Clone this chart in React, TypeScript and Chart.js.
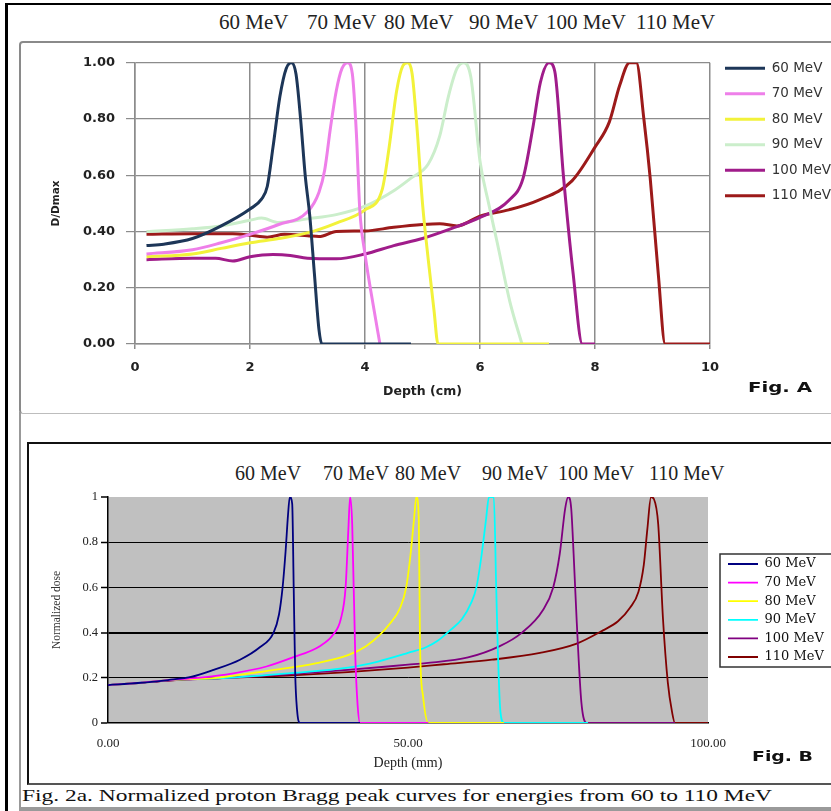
import React, { useEffect, useLayoutEffect, useRef } from 'react';
import { Chart, registerables } from 'chart.js';

Chart.register(...registerables);

// ---------- DATA ----------
const energies = ['60 MeV', '70 MeV', '80 MeV', '90 MeV', '100 MeV', '110 MeV'];

// Fig. A : depth (cm) vs D/Dmax
const figA60 = [[0.2, 0.35], [0.5, 0.355], [1.0, 0.375], [1.5, 0.42], [2.0, 0.48], [2.2, 0.515], [2.3, 0.56], [2.4, 0.7], [2.52, 0.88], [2.63, 0.98], [2.72, 1.0], [2.8, 0.96], [2.88, 0.8], [2.96, 0.6], [3.04, 0.455], [3.12, 0.25], [3.2, 0.05], [3.25, 0], [4.8, 0]];
const figA70 = [[0.2, 0.32], [1.0, 0.335], [1.5, 0.36], [2.0, 0.39], [2.5, 0.425], [3.0, 0.47], [3.2, 0.54], [3.3, 0.62], [3.4, 0.77], [3.5, 0.9], [3.6, 0.98], [3.7, 1.0], [3.78, 0.96], [3.85, 0.75], [3.91, 0.475], [4.0, 0.32], [4.15, 0.13], [4.26, 0]];
const figA80 = [[0.2, 0.31], [1.0, 0.32], [1.5, 0.34], [2.0, 0.36], [2.5, 0.375], [3.0, 0.395], [3.5, 0.43], [4.0, 0.477], [4.3, 0.55], [4.42, 0.7], [4.55, 0.9], [4.66, 0.99], [4.74, 1.0], [4.82, 0.96], [4.9, 0.78], [5.0, 0.5], [5.1, 0.3], [5.2, 0.12], [5.27, 0], [7.2, 0]];
const figA90 = [[0.2, 0.4], [1.0, 0.41], [1.5, 0.42], [2.0, 0.44], [2.2, 0.448], [2.5, 0.432], [3.0, 0.445], [3.5, 0.46], [4.0, 0.49], [4.5, 0.545], [4.8, 0.59], [5.1, 0.64], [5.3, 0.74], [5.45, 0.88], [5.6, 0.98], [5.72, 1.0], [5.84, 0.95], [6.0, 0.65], [6.15, 0.5], [6.3, 0.36], [6.52, 0.15], [6.73, 0]];
const figA100 = [[0.2, 0.3], [1.0, 0.305], [1.4, 0.305], [1.7, 0.295], [2.0, 0.31], [2.4, 0.318], [2.7, 0.315], [3.0, 0.305], [3.5, 0.303], [4.0, 0.32], [4.5, 0.35], [5.0, 0.375], [5.5, 0.41], [6.0, 0.45], [6.5, 0.51], [6.75, 0.59], [6.92, 0.77], [7.05, 0.93], [7.2, 1.0], [7.3, 0.97], [7.45, 0.6], [7.62, 0.25], [7.78, 0], [8.0, 0]];
const figA110 = [[0.2, 0.39], [1.0, 0.392], [1.7, 0.392], [2.0, 0.387], [2.3, 0.38], [2.6, 0.39], [3.0, 0.385], [3.2, 0.382], [3.5, 0.4], [4.0, 0.402], [4.5, 0.415], [5.0, 0.425], [5.3, 0.428], [5.6, 0.42], [6.0, 0.455], [6.5, 0.477], [7.0, 0.51], [7.6, 0.58], [8.0, 0.7], [8.25, 0.79], [8.43, 0.92], [8.6, 1.0], [8.72, 1.0], [8.85, 0.8], [8.96, 0.59], [9.1, 0.25], [9.22, 0], [10, 0]];
const figASeries = [figA60, figA70, figA80, figA90, figA100, figA110];
const figAColors = ['#1d3658', '#ee7fe9', '#f2f23a', '#cbeecb', '#a01c8a', '#9c1a1a'];
const figAXTicks = [0, 2, 4, 6, 8, 10];
const figAYTicks = [0, 0.2, 0.4, 0.6, 0.8, 1.0];

// Fig. B : depth (mm) vs normalized dose
const figB60 = [[0, 0.168], [5, 0.177], [10, 0.19], [14, 0.205], [17.6, 0.235], [22, 0.28], [25.3, 0.335], [27.6, 0.4], [28.5, 0.48], [29.1, 0.6], [29.6, 0.76], [30, 0.92], [30.3, 1.0], [30.7, 0.97], [30.95, 0.6], [31.2, 0.22], [31.5, 0.06], [32, 0], [42, 0]];
const figB70 = [[0, 0.168], [5, 0.177], [10, 0.19], [15, 0.2], [20.9, 0.22], [26.4, 0.25], [30.8, 0.29], [35.3, 0.34], [37.5, 0.39], [38.8, 0.46], [39.6, 0.6], [40.05, 0.85], [40.35, 1.0], [40.7, 0.88], [41.2, 0.31], [41.6, 0.08], [42, 0], [53.4, 0]];
const figB80 = [[0, 0.168], [5, 0.177], [10, 0.19], [18, 0.2], [26.4, 0.23], [34.8, 0.265], [40, 0.3], [43, 0.34], [45.3, 0.39], [47, 0.44], [48.7, 0.51], [49.7, 0.6], [50.4, 0.74], [51, 0.9], [51.4, 1.0], [51.8, 0.9], [52, 0.35], [52.5, 0.12], [53.4, 0], [66, 0]];
const figB90 = [[0, 0.168], [5, 0.177], [10, 0.19], [20, 0.2], [30, 0.22], [40, 0.245], [45, 0.272], [50, 0.31], [53, 0.335], [55, 0.365], [57, 0.41], [59, 0.46], [60.5, 0.53], [61.4, 0.6], [62.3, 0.75], [63, 0.9], [63.5, 1.0], [64.3, 1.0], [64.7, 0.6], [65, 0.3], [65.4, 0.05], [66, 0], [80, 0]];
const figB100 = [[0, 0.168], [5, 0.177], [10, 0.188], [20, 0.2], [30, 0.215], [40, 0.235], [50, 0.258], [53, 0.265], [60, 0.29], [65.3, 0.34], [69, 0.4], [72.5, 0.5], [74.2, 0.6], [75.3, 0.75], [76.2, 0.95], [76.7, 1.0], [77.2, 0.95], [77.6, 0.75], [78.1, 0.46], [78.9, 0.09], [79.8, 0], [94.5, 0]];
const figB110 = [[0, 0.168], [5, 0.177], [10, 0.188], [20, 0.2], [30, 0.21], [40, 0.225], [50, 0.245], [56, 0.26], [64, 0.28], [72, 0.31], [78, 0.35], [82.5, 0.41], [85, 0.45], [87, 0.51], [88.4, 0.58], [89.3, 0.7], [89.9, 0.86], [90.5, 1.0], [91, 0.99], [91.7, 0.88], [92.5, 0.46], [93.3, 0.18], [94, 0.05], [94.5, 0], [100, 0]];
const figBSeries = [figB60, figB70, figB80, figB90, figB100, figB110];
const figBColors = ['#000080', '#ff00ff', '#ffff00', '#00ffff', '#800080', '#800000'];
const figBXTicks = [0, 50, 100];
const figBYTicks = [0, 0.2, 0.4, 0.6, 0.8, 1];

const captionText = 'Fig. 2a. Normalized proton Bragg peak curves for energies from 60 to 110 MeV';

// ---------- PLUGINS ----------
const plotBg = {
  id: 'plotBg',
  beforeDraw(chart: any, _a: any, opts: any) {
    if (!opts || !opts.color) return;
    const { ctx, chartArea: a } = chart;
    ctx.save();
    ctx.fillStyle = opts.color;
    ctx.fillRect(a.left, a.top, a.right - a.left, a.bottom - a.top);
    ctx.restore();
  },
};

const legendFrame = {
  id: 'legendFrame',
  afterDraw(chart: any, _a: any, opts: any) {
    if (!opts || !opts.enabled) return;
    const lg = chart.legend;
    const hb = lg && lg.legendHitBoxes;
    if (!hb || !hb.length) return;
    const first = hb[0];
    const last = hb[hb.length - 1];
    const { ctx } = chart;
    ctx.save();
    ctx.strokeStyle = opts.color || '#333';
    ctx.lineWidth = opts.width || 1.5;
    const left = first.left - opts.left;
    const top = first.top - opts.vpad;
    const bottom = last.top + last.height + opts.vpad;
    ctx.strokeRect(left, top, chart.width - left + 10, bottom - top);
    ctx.restore();
  },
};

// legend labels: default items, widened with trailing blanks so the legend box
// reaches the picture edge (the reference cuts the legend text at the border)
const wideLabels = (chart: any) =>
  Chart.defaults.plugins.legend.labels.generateLabels(chart).map((it: any) => ({
    ...it,
    text: it.text + '\u00A0\u00A0\u00A0\u00A0\u00A0\u00A0\u00A0\u00A0\u00A0\u00A0',
  }));

// ---------- CHART CONFIGS ----------
const sansBold = (size: number) => ({ family: "'DejaVu Sans', sans-serif", size, weight: 'bold' as const });
const serif = (size: number) => ({ family: "'Liberation Serif', 'Times New Roman', serif", size });

function configA() {
  return {
    type: 'line',
    data: {
      datasets: figASeries.map((pts, i) => ({
        label: energies[i],
        data: pts.map(([x, y]) => ({ x, y })),
        borderColor: figAColors[i],
        backgroundColor: figAColors[i],
        borderWidth: 3,
        pointBorderWidth: 3,
        pointRadius: 0,
        pointHoverRadius: 0,
        cubicInterpolationMode: 'monotone',
        fill: false,
      })),
    },
    options: {
      responsive: false,
      animation: false,
      events: [],
      layout: { padding: { top: 5.5, right: 69, bottom: 0, left: 0 } },
      plugins: {
        title: { display: true, text: ' ', font: { size: 6.5, lineHeight: 1 }, padding: 0 },
        legend: {
          position: 'right',
          align: 'start',
          maxWidth: 140,
          labels: {
            usePointStyle: true,
            pointStyle: 'line',
            pointStyleWidth: 40,
            padding: 12,
            color: '#333',
            font: { family: "'DejaVu Sans', sans-serif", size: 13.5 },
            generateLabels: wideLabels,
          },
        },
        tooltip: { enabled: false },
      },
      scales: {
        x: {
          type: 'linear',
          min: 0,
          max: 10,
          afterFit: (s: any) => { s.height = 68; },
          afterBuildTicks: (s: any) => { s.ticks = figAXTicks.map((v) => ({ value: v })); },
          ticks: { padding: 11, color: '#222', font: sansBold(13), maxRotation: 0 },
          grid: { color: '#8c8c8c', lineWidth: 1.5, tickLength: 5 },
          border: { color: '#8c8c8c', width: 1.5 },
          title: { display: true, text: 'Depth (cm)', color: '#222', font: sansBold(12.5), padding: { top: 0, bottom: 13 } },
        },
        y: {
          type: 'linear',
          min: 0,
          max: 1,
          afterFit: (s: any) => { s.width = 113; },
          afterBuildTicks: (s: any) => { s.ticks = figAYTicks.map((v) => ({ value: v })); },
          ticks: { padding: 11, color: '#222', font: sansBold(13), callback: (v: any) => Number(v).toFixed(2) },
          grid: { color: '#8c8c8c', lineWidth: 1.2, tickLength: 9 },
          border: { color: '#8c8c8c', width: 1.5 },
          title: { display: true, text: 'D/Dmax', color: '#222', font: sansBold(10.5), padding: { top: 28, bottom: 0 } },
        },
        yr: {
          type: 'linear',
          position: 'right',
          display: true,
          afterFit: (s: any) => { s.width = 3; },
          grid: { display: false },
          ticks: { display: false },
          border: { display: false },
        },
      },
    },
  };
}

function configB() {
  return {
    type: 'line',
    data: {
      datasets: figBSeries.map((pts, i) => ({
        label: energies[i],
        data: pts.map(([x, y]) => ({ x, y })),
        borderColor: figBColors[i],
        backgroundColor: figBColors[i],
        borderWidth: 1.8,
        pointBorderWidth: 1.8,
        pointRadius: 0,
        pointHoverRadius: 0,
        cubicInterpolationMode: 'monotone',
        fill: false,
      })),
    },
    plugins: [plotBg, legendFrame],
    options: {
      responsive: false,
      animation: false,
      events: [],
      layout: { padding: { top: 53, right: 76.6, bottom: 0, left: 0 } },
      plugins: {
        plotBg: { color: '#c0c0c0' },
        legendFrame: { enabled: true, left: 8, vpad: 3.5, color: '#333', width: 1.5 },
        title: { display: false },
        legend: {
          position: 'right',
          align: 'start',
          maxWidth: 130,
          title: { display: true, text: ' ', font: { size: 10, lineHeight: 1 }, padding: { top: 44.9, bottom: 0 } },
          labels: {
            usePointStyle: true,
            pointStyle: 'line',
            pointStyleWidth: 30,
            padding: 5.6,
            color: '#111',
            font: { family: "'DejaVu Serif', serif", size: 13 },
            generateLabels: wideLabels,
          },
        },
        tooltip: { enabled: false },
      },
      scales: {
        x: {
          type: 'linear',
          min: 0,
          max: 100,
          afterFit: (s: any) => { s.height = 60; },
          afterBuildTicks: (s: any) => { s.ticks = figBXTicks.map((v) => ({ value: v })); },
          ticks: { padding: 5, color: '#222', font: serif(13), maxRotation: 0, callback: (v: any) => Number(v).toFixed(2) },
          grid: { display: false },
          border: { color: '#000', width: 1.5 },
          title: { display: true, text: 'Depth (mm)', color: '#222', font: serif(14), padding: { top: 0, bottom: 11.6 } },
        },
        y: {
          type: 'linear',
          min: 0,
          max: 1,
          afterFit: (s: any) => { s.width = 79; },
          afterBuildTicks: (s: any) => { s.ticks = figBYTicks.map((v) => ({ value: v })); },
          ticks: { padding: 3, color: '#222', font: serif(12.5), callback: (v: any) => String(Number(v)) },
          grid: {
            color: '#000',
            lineWidth: (c: any) => (c.tick && (c.tick.value === 1 || c.tick.value === 0) ? 0 : c.tick && Math.abs(c.tick.value - 0.4) < 1e-6 ? 2 : 1),
            tickLength: 7,
            tickWidth: 1.5,
            tickColor: '#000',
          },
          border: { color: '#000', width: 1.5 },
          title: { display: true, text: 'Normalized dose', color: '#333', font: serif(11.5), padding: { top: 21.4, bottom: 0 } },
        },
        yr: {
          type: 'linear',
          position: 'right',
          display: true,
          afterFit: (s: any) => { s.width = 14.4; },
          grid: { display: false },
          ticks: { display: false },
          border: { display: false },
        },
      },
    },
  };
}

// ---------- COMPONENTS ----------
function ChartCanvas({ make, left, top, width, height }: any) {
  const ref = useRef<HTMLCanvasElement>(null);
  useEffect(() => {
    const chart = new Chart(ref.current as HTMLCanvasElement, make() as any);
    return () => chart.destroy();
  }, []);
  return (
    <canvas
      ref={ref}
      width={width}
      height={height}
      style={{ position: 'absolute', left, top, width, height, display: 'block' }}
    />
  );
}

function FitText({ text, left, top, targetWidth, style }: any) {
  const ref = useRef<HTMLSpanElement>(null);
  useLayoutEffect(() => {
    const el = ref.current;
    if (!el) return;
    el.style.transform = 'none';
    const w = el.getBoundingClientRect().width;
    if (w > 0) el.style.transform = `scaleX(${targetWidth / w})`;
  }, []);
  return (
    <span
      ref={ref}
      style={{ position: 'absolute', left, top, whiteSpace: 'nowrap', transformOrigin: 'left top', ...style }}
    >
      {text}
    </span>
  );
}

const titleAX = [219, 307, 384, 469, 546, 636];
const titleBX = [235, 323, 395, 482, 558, 649];

export default function App() {
  const serifFam = "'Liberation Serif', 'Times New Roman', serif";
  return (
    <div
      style={{
        position: 'fixed',
        left: 0,
        top: 0,
        width: 831,
        height: 811,
        overflow: 'hidden',
        background: '#fff',
      }}
    >
      {/* outer black border */}
      <div style={{ position: 'absolute', left: 5, top: 3, width: 830, height: 2, background: '#000' }} />
      <div style={{ position: 'absolute', left: 5, top: 3, width: 3, height: 810, background: '#000' }} />

      {/* Fig A title row */}
      {energies.map((t, i) => (
        <span
          key={'ta' + i}
          style={{ position: 'absolute', left: titleAX[i], top: 12, fontFamily: serifFam, fontSize: 21, lineHeight: '21px', color: '#222', whiteSpace: 'nowrap' }}
        >
          {t}
        </span>
      ))}

      {/* Fig A frame */}
      <div style={{ position: 'absolute', left: 19, top: 41, width: 840, height: 373, border: '2px solid #8a8a8a', borderBottom: '1.5px solid #bdbdbd', borderRadius: 4, boxSizing: 'border-box' }} />
      <div style={{ position: 'absolute', left: 19, top: 412, width: 2, height: 399, background: '#999' }} />

      <ChartCanvas make={configA} left={22} top={44} width={900} height={368} />

      <FitText text="Fig. A" left={748} top={380} targetWidth={64} style={{ fontFamily: "'DejaVu Sans', sans-serif", fontWeight: 'bold', fontSize: 14, lineHeight: '14px', color: '#111' }} />

      {/* Fig B frame */}
      <div style={{ position: 'absolute', left: 27, top: 442, width: 840, height: 343, border: '2px solid #111', borderBottom: '2px solid #555', boxSizing: 'border-box' }} />

      {/* Fig B title row */}
      {energies.map((t, i) => (
        <span
          key={'tb' + i}
          style={{ position: 'absolute', left: titleBX[i], top: 463, fontFamily: serifFam, fontSize: 20, lineHeight: '20px', color: '#222', whiteSpace: 'nowrap' }}
        >
          {t}
        </span>
      ))}

      <ChartCanvas make={configB} left={29} top={444} width={900} height={339} />

      <FitText text="Fig. B" left={752} top={749} targetWidth={61} style={{ fontFamily: "'DejaVu Sans', sans-serif", fontWeight: 'bold', fontSize: 14, lineHeight: '14px', color: '#111' }} />

      {/* caption */}
      <FitText text={captionText} left={22} top={788} targetWidth={750} style={{ fontFamily: serifFam, fontSize: 16, lineHeight: '16px', color: '#111' }} />

      {/* bottom grey bar */}
      <div style={{ position: 'absolute', left: 19, top: 807, width: 820, height: 4, background: '#9a9a9a' }} />
    </div>
  );
}
